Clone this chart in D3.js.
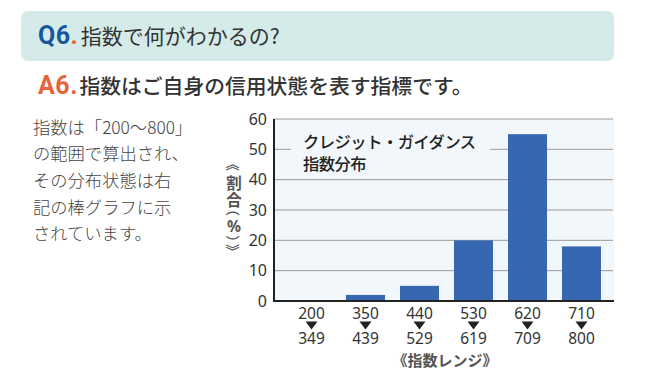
<!DOCTYPE html>
<html><head><meta charset="utf-8">
<script src="https://cdn.jsdelivr.net/npm/d3@7/dist/d3.min.js"></script>
<style>
html,body{margin:0;padding:0;background:#fff;}
svg{display:block;font-family:"Noto Sans CJK JP","Noto Sans",sans-serif;}
</style></head>
<body><svg id="c" width="650" height="376"></svg>
<script>
const rangeStart = ["200","350","440","530","620","710"];
const rangeEnd   = ["349","439","529","619","709","800"];
const shares     = [0, 2, 5, 20, 55, 18];
const yTicks     = [0,10,20,30,40,50,60];
const question   = "指数で何がわかるの?";
const answer     = "指数はご自身の信用状態を表す指標です。";
const bodyLines  = ["指数は「200〜800」","の範囲で算出され、","その分布状態は右","記の棒グラフに示","されています。"];
const chartTitle = ["クレジット・ガイダンス","指数分布"];
const yTitleChars = ["《","割","合","（","%","）","》"];
const xTitle = "《指数レンジ》";

const svg = d3.select("#c");
// header
svg.append("rect").attr("x",21).attr("y",11).attr("width",593).attr("height",50).attr("rx",7).attr("fill","#d5ebe9");
const q = svg.append("text").attr("x",38).attr("y",44).attr("font-size",25);
q.append("tspan").text("Q6").attr("fill","#1657a0").attr("font-weight",700).attr("letter-spacing",0.5).attr("font-family","Roboto,'Noto Sans',sans-serif");
q.append("tspan").text(".").attr("fill","#e8623a").attr("font-weight",700).attr("font-family","Roboto,'Noto Sans',sans-serif");
q.append("tspan").text(question).attr("fill","#333").attr("font-size",21).attr("dx",3);
const a = svg.append("text").attr("x",38).attr("y",94).attr("font-size",25);
a.append("tspan").text("A6").attr("fill","#e8623a").attr("font-weight",700).attr("letter-spacing",0.5).attr("font-family","Roboto,'Noto Sans',sans-serif");
a.append("tspan").text(".").attr("fill","#e8623a").attr("font-weight",700).attr("font-family","Roboto,'Noto Sans',sans-serif");
a.append("tspan").text(answer).attr("fill","#333").attr("font-size",20.8).attr("dx",2).attr("font-weight",500);

// paragraph
svg.append("g").selectAll("text").data(bodyLines).join("text")
  .attr("x",33).attr("y",(d,i)=>133.5+i*26.7).attr("font-size",17.3).attr("fill","#444").attr("font-weight",300)
  .text(d=>d);

// chart
const L=274,R=614,T=119,B=301;
const x = d3.scaleBand().domain(rangeStart).range([284.5,608.5]).paddingInner(15/54).paddingOuter(15/108);
const y = d3.scaleLinear().domain([0,60]).range([B,T]);
svg.append("rect").attr("x",L).attr("y",T).attr("width",R-L).attr("height",B-T).attr("fill","#f2f7fb");
svg.append("g").selectAll("line").data(yTicks.filter(d=>d>0)).join("line")
  .attr("x1",L).attr("x2",R-1).attr("y1",d=>y(d)).attr("y2",d=>y(d)).attr("stroke","#9a9a9a").attr("stroke-width",1);
// title box
svg.append("rect").attr("x",291).attr("y",126).attr("width",199).attr("height",46).attr("fill","#f2f7fb");
svg.append("g").selectAll("text").data(chartTitle).join("text")
  .attr("x",303).attr("y",(d,i)=>148+i*22).attr("font-size",16.3).attr("letter-spacing",-0.5).attr("font-weight",500).attr("fill","#222").text(d=>d);
// bars
svg.append("g").selectAll("rect").data(shares).join("rect")
  .attr("x",(d,i)=>x(rangeStart[i])).attr("width",x.bandwidth())
  .attr("y",d=>y(d)).attr("height",d=>B-y(d)).attr("fill","#3767b1");
// axes
const yAxis = d3.axisLeft(y).tickValues(yTicks).tickSize(0).tickPadding(7);
const gy = svg.append("g").attr("transform",`translate(${L},0)`).call(yAxis);
gy.select(".domain").remove();
gy.selectAll("text").attr("font-size",16).attr("fill","#333").attr("font-family","'Noto Sans',sans-serif");
svg.append("line").attr("x1",L).attr("x2",L).attr("y1",T).attr("y2",B+1).attr("stroke","#222").attr("stroke-width",2);
svg.append("line").attr("x1",L-1).attr("x2",R).attr("y1",B).attr("y2",B).attr("stroke","#222").attr("stroke-width",2);

const xAxis = d3.axisBottom(x).tickSize(0).tickPadding(0).tickFormat(()=> "");
const gx = svg.append("g").attr("transform",`translate(0,${B})`).call(xAxis);
gx.select(".domain").remove();
gx.selectAll(".tick").each(function(d,i){
  const g=d3.select(this);
  g.select("text").remove();
  g.append("text").attr("y",18).attr("text-anchor","middle").attr("font-size",15.5).attr("fill","#333").attr("font-family","'Noto Sans',sans-serif").text(d);
  g.append("path").attr("d","M-6,20.5 L6,20.5 L0,28.5 Z").attr("fill","#222");
  g.append("text").attr("y",43).attr("text-anchor","middle").attr("font-size",15.5).attr("fill","#333").attr("font-family","'Noto Sans',sans-serif").text(rangeEnd[i]);
});
svg.append("text").attr("x",445).attr("y",366).attr("text-anchor","middle").attr("font-size",15).attr("font-weight",700).attr("fill","#555").text(xTitle);

// y title (stacked vertically, brackets rotated)
const yPos = [164, 182, 199, 209, 226, 242, 251];
const rot  = [true,false,false,true,false,true,true];
svg.append("g").selectAll("text").data(yTitleChars).join("text")
  .attr("transform",(d,i)=>`translate(234,${yPos[i]})${rot[i]?" rotate(90)":""}`)
  .attr("text-anchor","middle").attr("dominant-baseline","central")
  .attr("font-size",(d,i)=>rot[i]?14:15.5).attr("font-weight",(d,i)=>rot[i]?500:700).attr("fill","#555")
  .attr("font-family",(d,i)=>i===4?"'Noto Sans',sans-serif":null)
  .text(d=>d);
</script></body></html>
